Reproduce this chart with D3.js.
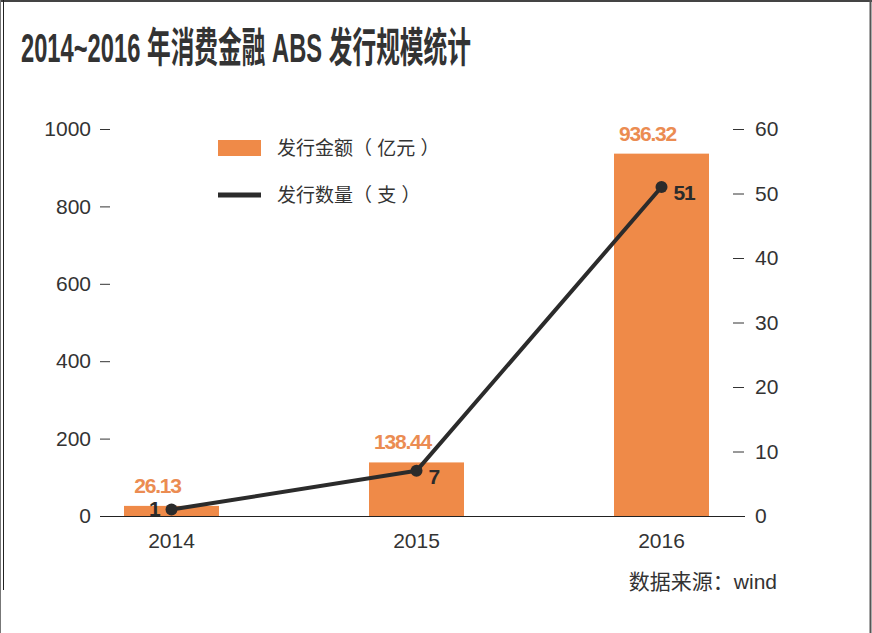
<!DOCTYPE html>
<html>
<head>
<meta charset="utf-8">
<script src="https://cdn.jsdelivr.net/npm/d3@7"></script>
<style>
  html, body { margin: 0; padding: 0; background: #fff; }
  svg { display: block; }
  text { font-family: "Liberation Sans", Arial, "Noto Sans CJK SC", sans-serif; }
  .cjk { font-family: "Liberation Sans", "Noto Sans CJK SC", sans-serif; }
</style>
</head>
<body>
<svg id="chart" width="872" height="633"></svg>
<script>
// ---- data ----
const titleText = "2014~2016 年消费金融 ABS 发行规模统计";
const years = ["2014", "2015", "2016"];
const amounts = [26.13, 138.44, 936.32];      // 发行金额（亿元）
const counts = [1, 7, 51];                    // 发行数量（支）
const leftTicks = [0, 200, 400, 600, 800, 1000];
const rightTicks = [0, 10, 20, 30, 40, 50, 60];
const legendLabels = ["发行金额（ 亿元 ）", "发行数量（ 支 ）"];
const sourceText = "数据来源：wind";

// ---- setup ----
const svg = d3.select("#chart");
const W = 872, H = 633;
const barColor = "#ef8a48", labelOrange = "#eb8c52", dark = "#2b2b2b", textColor = "#333";

// frame
svg.append("line").attr("x1", 0).attr("x2", W).attr("y1", 1).attr("y2", 1).attr("stroke", "#444").attr("stroke-width", 2);
svg.append("line").attr("x1", 0.5).attr("x2", 0.5).attr("y1", 0).attr("y2", H).attr("stroke", "#777").attr("stroke-width", 1);
svg.append("line").attr("x1", 3.5).attr("x2", 3.5).attr("y1", 0).attr("y2", 590).attr("stroke", "#222").attr("stroke-width", 1);
svg.append("line").attr("x1", 870.5).attr("x2", 870.5).attr("y1", 0).attr("y2", H).attr("stroke", "#555").attr("stroke-width", 2);

// title
svg.append("text").attr("class", "cjk")
  .attr("x", 21).attr("y", 62)
  .attr("font-size", 41).attr("font-weight", "bold").attr("fill", textColor)
  .attr("textLength", 450).attr("lengthAdjust", "spacingAndGlyphs")
  .text(titleText);

// scales
const x = d3.scaleBand().domain(years).range([49, 784]).padding(0);
const barW = 95;
const cx = d => x(d) + x.bandwidth() / 2;
const yL = d3.scaleLinear().domain([0, 1000]).range([516, 129]);
const yR = d3.scaleLinear().domain([0, 60]).range([516, 129]);

// left axis
const gL = svg.append("g").attr("transform", "translate(110,0)")
  .call(d3.axisLeft(yL).tickValues(leftTicks).tickFormat(d3.format("d")).tickSize(10).tickPadding(9));
gL.select(".domain").remove();
gL.selectAll(".tick line").attr("stroke", textColor);
gL.selectAll(".tick text").attr("font-size", 21).attr("fill", textColor)
  .style("font-family", "'Liberation Sans', Arial, sans-serif");

// right axis
const gR = svg.append("g").attr("transform", "translate(733,0)")
  .call(d3.axisRight(yR).tickValues(rightTicks).tickFormat(d3.format("d")).tickSize(11).tickPadding(11));
gR.select(".domain").remove();
gR.selectAll(".tick line").attr("stroke", textColor);
gR.selectAll(".tick text").attr("font-size", 21).attr("fill", textColor)
  .style("font-family", "'Liberation Sans', Arial, sans-serif");

// bars
svg.append("g").selectAll("rect").data(years).join("rect")
  .attr("x", d => cx(d) - barW / 2)
  .attr("width", barW)
  .attr("y", (d, i) => yL(amounts[i]))
  .attr("height", (d, i) => yL(0) - yL(amounts[i]))
  .attr("fill", barColor);

// baseline
svg.append("line").attr("x1", 100).attr("x2", 745).attr("y1", 516.5).attr("y2", 516.5)
  .attr("stroke", "#222").attr("stroke-width", 1.2);

// bottom axis labels
const gB = svg.append("g").attr("transform", "translate(0,516)")
  .call(d3.axisBottom(x).tickSize(0).tickPadding(17));
gB.select(".domain").remove();
gB.selectAll(".tick text").attr("font-size", 21).attr("fill", textColor)
  .style("font-family", "'Liberation Sans', Arial, sans-serif");

// bar value labels
svg.append("g").selectAll("text").data(years).join("text")
  .attr("x", d => cx(d) - 14)
  .attr("y", (d, i) => yL(amounts[i]) - 13)
  .attr("text-anchor", "middle")
  .attr("font-size", 21).attr("font-weight", "bold").attr("fill", labelOrange)
  .attr("letter-spacing", -1.2)
  .text((d, i) => amounts[i].toFixed(2));

// line
const line = d3.line().x(d => cx(d)).y((d, i) => yR(counts[i]));
svg.append("path").datum(years)
  .attr("d", line).attr("fill", "none")
  .attr("stroke", dark).attr("stroke-width", 4).attr("stroke-linejoin", "round");
svg.append("g").selectAll("circle").data(years).join("circle")
  .attr("cx", d => cx(d)).attr("cy", (d, i) => yR(counts[i])).attr("r", 6)
  .attr("fill", dark);

// line value labels
svg.append("g").selectAll("text").data(years).join("text")
  .attr("x", (d, i) => i === 0 ? cx(d) - 12 : cx(d) + 12)
  .attr("y", (d, i) => yR(counts[i]) + (i === 0 ? -1 : 6) + 7)
  .attr("text-anchor", (d, i) => i === 0 ? "end" : "start")
  .attr("font-size", 21).attr("font-weight", "bold").attr("fill", dark)
  .attr("letter-spacing", -1.2)
  .text((d, i) => counts[i]);

// legend
const lg = svg.append("g");
lg.append("rect").attr("x", 218).attr("y", 140).attr("width", 43).attr("height", 16).attr("fill", barColor);
lg.append("line").attr("x1", 218).attr("x2", 261).attr("y1", 195).attr("y2", 195)
  .attr("stroke", dark).attr("stroke-width", 5);
lg.selectAll("text").data(legendLabels).join("text").attr("class", "cjk")
  .attr("x", 277).attr("y", (d, i) => 155 + i * 47)
  .attr("font-size", 19).attr("fill", textColor)
  .text(d => d);

// source
svg.append("text").attr("class", "cjk")
  .attr("x", 777).attr("y", 589).attr("text-anchor", "end")
  .attr("font-size", 21).attr("fill", textColor)
  .text(sourceText);
</script>
</body>
</html>
